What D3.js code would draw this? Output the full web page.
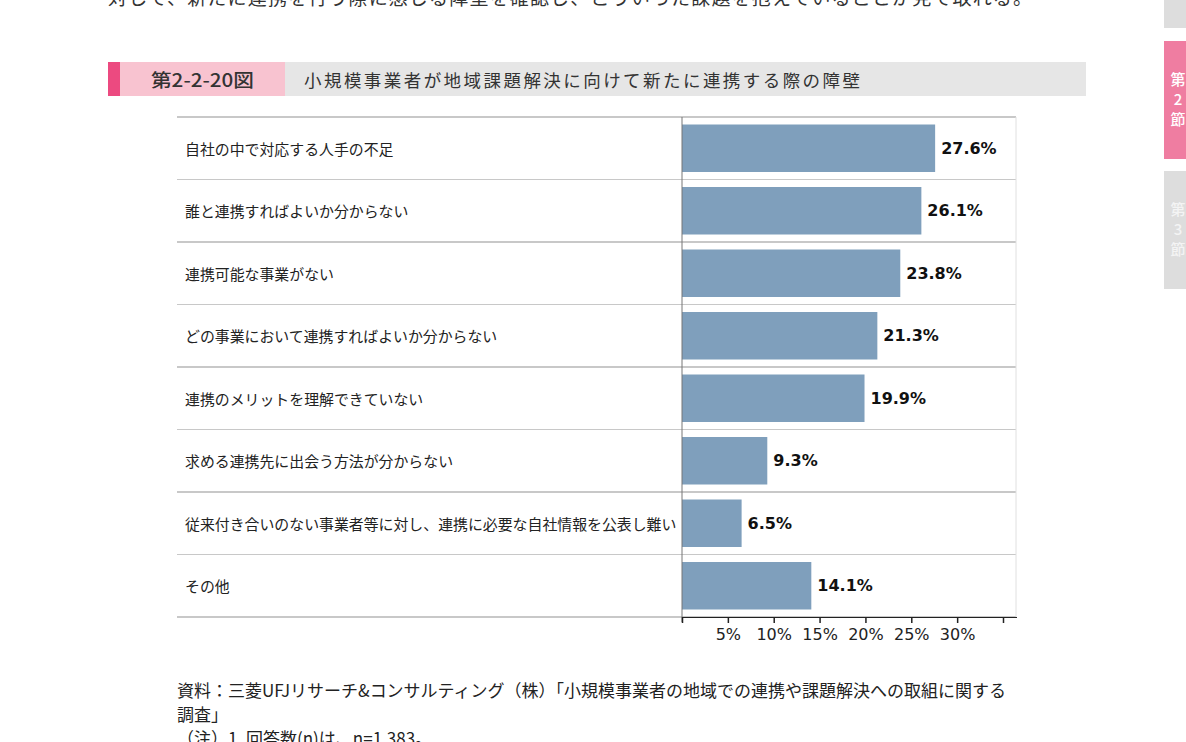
<!DOCTYPE html>
<html lang="ja">
<head>
<meta charset="utf-8">
<script src="https://cdn.jsdelivr.net/npm/d3@7"></script>
<style>
  html, body { margin: 0; padding: 0; background: #fff; }
  svg { display: block; font-family: "Noto Sans CJK JP", "Noto Sans", sans-serif; }
</style>
</head>
<body>
<svg id="chart" width="1186" height="742"></svg>
<script>
// ---- data ----
const categories = [
  "自社の中で対応する人手の不足",
  "誰と連携すればよいか分からない",
  "連携可能な事業がない",
  "どの事業において連携すればよいか分からない",
  "連携のメリットを理解できていない",
  "求める連携先に出会う方法が分からない",
  "従来付き合いのない事業者等に対し、連携に必要な自社情報を公表し難い",
  "その他"
];
const values = [27.6, 26.1, 23.8, 21.3, 19.9, 9.3, 6.5, 14.1];
const tickValues = [0, 5, 10, 15, 20, 25, 30, 35];
const tickLabels = ["", "5%", "10%", "15%", "20%", "25%", "30%", ""];
const figNumber = "第2-2-20図";
const figTitle = "小規模事業者が地域課題解決に向けて新たに連携する際の障壁";
const topText = "対して、新たに連携を行う際に感じる障壁を確認し、こういった課題を抱えていることが見て取れる。";
const notes = [
  "資料：三菱UFJリサーチ&コンサルティング（株）「小規模事業者の地域での連携や課題解決への取組に関する",
  "調査」",
  "（注）1. 回答数(n)は、n=1,383。"
];
const tabs = [
  { lines: [], active: false },
  { lines: ["第", "2", "節"], active: true },
  { lines: ["第", "3", "節"], active: false }
];

const latinFont = "'DejaVu Sans', Verdana, sans-serif";

// ---- layout ----
const svg = d3.select("#chart");
svg.append("rect").attr("width", 1186).attr("height", 742).attr("fill", "#fff");

// top cut-off paragraph
svg.append("text")
  .attr("x", 108).attr("y", 5)
  .attr("font-size", 19).attr("fill", "#333")
  .attr("textLength", 924).attr("lengthAdjust", "spacing")
  .text(topText);

// right side tabs
const tabG = svg.append("g");
const tabY = [[-10, 28], [41, 159], [171, 289]];
tabs.forEach((t, i) => {
  tabG.append("rect")
    .attr("x", 1164).attr("y", tabY[i][0])
    .attr("width", 30).attr("height", tabY[i][1] - tabY[i][0])
    .attr("fill", t.active ? "#EF7DA1" : "#DDDDDD");
  t.lines.forEach((s, j) => {
    tabG.append("text")
      .attr("x", 1178).attr("y", tabY[i][0] + 44 + j * 20)
      .attr("text-anchor", "middle")
      .attr("font-size", 15).attr("font-weight", 500)
      .attr("fill", t.active ? "#fff" : "#f4f4f4")
      .text(s);
  });
});

// header band
const hdr = svg.append("g");
hdr.append("rect").attr("x", 108).attr("y", 62).attr("width", 978).attr("height", 34).attr("fill", "#E6E6E6");
hdr.append("rect").attr("x", 108).attr("y", 62).attr("width", 177).attr("height", 34).attr("fill", "#F8C3D0");
hdr.append("rect").attr("x", 108).attr("y", 62).attr("width", 12).attr("height", 34).attr("fill", "#EC4A80");
hdr.append("text")
  .attr("x", 151).attr("y", 79).attr("dominant-baseline", "central")
  .attr("font-size", 18).attr("font-weight", 500).attr("fill", "#333")
  .attr("textLength", 103).attr("lengthAdjust", "spacingAndGlyphs")
  .text(figNumber);
hdr.append("text")
  .attr("x", 304).attr("y", 79).attr("dominant-baseline", "central")
  .attr("font-size", 17.5).attr("fill", "#333")
  .attr("textLength", 556).attr("lengthAdjust", "spacing")
  .text(figTitle);

// chart frame
const plotLeft = 177, axisX = 682, plotRight = 1016, plotTop = 117, plotBottom = 617;
const x = d3.scaleLinear().domain([0, 35]).range([axisX, axisX + 321]);
const y = d3.scaleBand().domain(categories).range([plotTop, plotBottom]).paddingInner(0).paddingOuter(0);
const barPad = 7.5;

const g = svg.append("g");

// row separators
const rowLines = d3.range(categories.length + 1);
g.selectAll("line.row").data(rowLines).join("line")
  .attr("class", "row")
  .attr("x1", plotLeft).attr("x2", plotRight)
  .attr("y1", i => plotTop + i * y.bandwidth())
  .attr("y2", i => plotTop + i * y.bandwidth())
  .attr("stroke", "#c8c8c8")
  .attr("stroke-width", i => (i % 2 === 0 ? 2 : 1.2));

// right border
g.append("line").attr("x1", plotRight).attr("x2", plotRight).attr("y1", plotTop).attr("y2", plotBottom)
  .attr("stroke", "#e0e0e0").attr("stroke-width", 1);

// bars
g.selectAll("rect.bar").data(values).join("rect")
  .attr("class", "bar")
  .attr("x", x(0))
  .attr("y", (d, i) => y(categories[i]) + barPad)
  .attr("width", d => x(d) - x(0))
  .attr("height", y.bandwidth() - 2 * barPad)
  .attr("fill", "#7F9FBC");

// value labels
g.selectAll("text.val").data(values).join("text")
  .attr("class", "val")
  .attr("x", d => x(d) + 6)
  .attr("y", (d, i) => y(categories[i]) + y.bandwidth() / 2)
  .attr("dominant-baseline", "central")
  .style("font-family", latinFont)
  .attr("font-size", 16).attr("font-weight", "bold").attr("fill", "#111")
  .text(d => d.toFixed(1) + "%");

// category labels
g.selectAll("text.cat").data(categories).join("text")
  .attr("class", "cat")
  .attr("x", 185)
  .attr("y", d => y(d) + y.bandwidth() / 2)
  .attr("dominant-baseline", "central")
  .attr("font-size", 14.9).attr("fill", "#222")
  .text(d => d);

// vertical axis line
g.append("line").attr("x1", axisX).attr("x2", axisX).attr("y1", plotTop).attr("y2", plotBottom + 5)
  .attr("stroke", "#777").attr("stroke-width", 1);

// x axis
const xAxis = d3.axisBottom(x)
  .tickValues(tickValues)
  .tickSize(6)
  .tickFormat((d, i) => tickLabels[i]);
const ax = svg.append("g").attr("transform", `translate(0,${plotBottom})`).call(xAxis);
ax.attr("font-family", null).attr("font-size", null);
ax.select(".domain").attr("d", `M${axisX},0.5H${plotRight + 1}`).attr("stroke", "#222").attr("stroke-width", 1.2);
ax.selectAll(".tick line").attr("stroke", "#222").attr("stroke-width", 1.5);
ax.selectAll(".tick text")
  .style("font-family", latinFont)
  .style("font-size", "16px").attr("fill", "#222")
  .attr("y", 12);

// notes
notes.forEach((s, i) => {
  const t = svg.append("text")
    .attr("x", 177).attr("y", 697 + i * 24)
    .attr("font-size", 17).attr("fill", "#222")
    .text(s);
  if (i === 0) t.attr("textLength", 829).attr("lengthAdjust", "spacingAndGlyphs");
});
</script>
</body>
</html>
